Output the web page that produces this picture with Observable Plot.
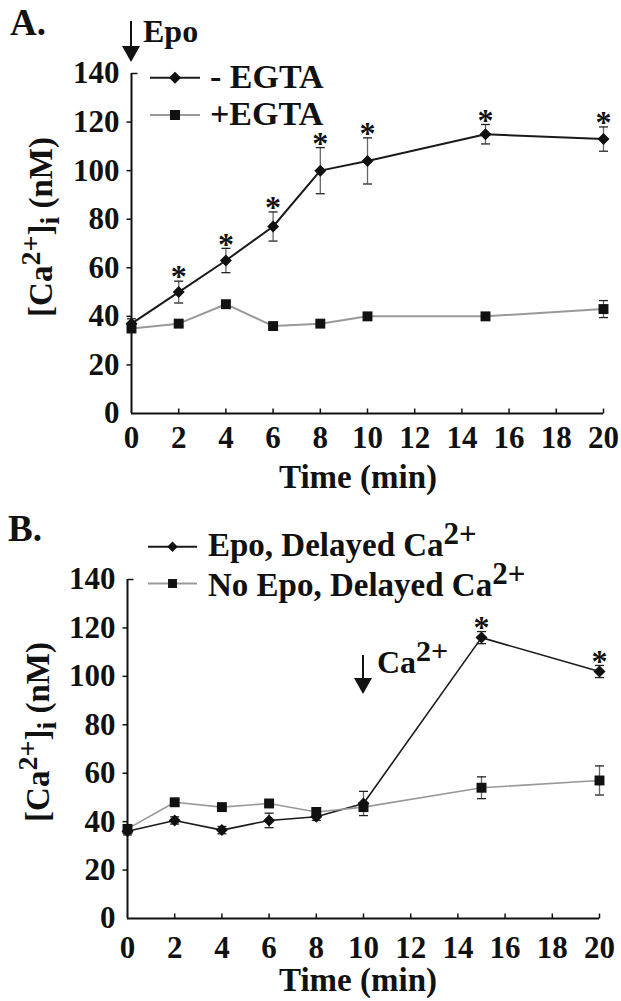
<!DOCTYPE html>
<html><head><meta charset="utf-8">
<script src="https://cdn.jsdelivr.net/npm/d3@7"></script>
<script src="https://cdn.jsdelivr.net/npm/@observablehq/plot@0.6"></script>
<style>
body{margin:0;background:#fff;}
#wrap{position:relative;width:621px;height:1001px;overflow:hidden;background:#fff;}
.panel{position:absolute;left:0;}
svg text{font-family:"Liberation Serif","Times New Roman",serif;font-weight:bold;}
</style></head><body>
<div id="wrap"><div class="panel" id="pa" style="top:0"></div><div class="panel" id="pb" style="top:500px"></div></div>
<script>
// ---- Panel A data ----
const timesA = [0, 2, 4, 6, 8, 10, 15, 20];
const minusEgta = [37, 50, 63, 77, 100, 104, 115, 113];
const minusEgtaErr = [2, 4.5, 5, 6, 9.5, 9.5, 4, 5];
const plusEgta = [35, 37, 45, 36, 37, 40, 40, 43];
const plusEgtaErr = [1.5, 1, 1, 1, 1, 1, 1, 3.5];
const sigA = [false, true, true, true, true, true, true, true];
// ---- Panel B data ----
const timesB = [0, 2, 4, 6, 8, 10, 15, 20];
const epoDelayed = [36, 40.5, 36.5, 40.5, 42, 47.5, 116, 102];
const epoDelayedErr = [1.5, 1.5, 1.5, 3, 1.5, 5, 2.5, 2.5];
const noEpoDelayed = [37, 48, 46, 47.5, 44, 46, 54, 57];
const noEpoDelayedErr = [1, 1, 1, 1, 1, 1.5, 4.5, 6];
const sigB = [false, false, false, false, false, false, true, true];
// ---- ticks ----
const xTicks = [0, 2, 4, 6, 8, 10, 12, 14, 16, 18, 20];
const yTicks = [0, 20, 40, 60, 80, 100, 120, 140];

const FONT = '"Liberation Serif","Times New Roman",serif';
const tickUp = {draw(ctx){ctx.moveTo(0,0);ctx.lineTo(0,-5);}};
const tickLeft = {draw(ctx){ctx.moveTo(0,0);ctx.lineTo(-5,0);}};
const tickRight = {draw(ctx){ctx.moveTo(0,0);ctx.lineTo(6,0);}};
const cap = {draw(ctx){ctx.moveTo(-4.5,0);ctx.lineTo(4.5,0);}};

function rows(times, vals, errs, sig){
  return times.map((t,i)=>({t, v:vals[i], e:errs[i], sig: sig ? sig[i] : false}));
}
function seriesMarks(data, {lineColor, lineWidth, symbol, r, barColor}){
  return [
    Plot.ruleX(data, {x:"t", y1:d=>d.v-d.e, y2:d=>d.v+d.e, stroke:barColor, strokeWidth:1.3}),
    Plot.dot(data, {x:"t", y:d=>d.v+d.e, symbol:cap, r:3, stroke:"#222", strokeWidth:1.3, fill:"none"}),
    Plot.dot(data, {x:"t", y:d=>d.v-d.e, symbol:cap, r:3, stroke:"#222", strokeWidth:1.3, fill:"none"}),
    Plot.line(data, {x:"t", y:"v", stroke:lineColor, strokeWidth:lineWidth}),
    Plot.dot(data, {x:"t", y:"v", symbol, r, fill:"#111", stroke:"none"}),
    Plot.text(data.filter(d=>d.sig), {x:"t", y:d=>d.v+d.e, text:()=>"*", fontSize:32, dy:-4, fill:"#111", fontFamily:FONT, fontWeight:"bold"})
  ];
}
function panel({height, marginTop, marginBottom, marginLeft, marginRight, xPad, s1, s2}){
  return Plot.plot({
    width:621, height, marginTop, marginBottom, marginLeft, marginRight,
    x:{domain:[0,20]}, y:{domain:[0,140]},
    style:{fontFamily:FONT, fontWeight:"bold", fontSize:"31px", color:"#111", background:"white", overflow:"visible"},
    marks:[
      Plot.axisY(yTicks, {anchor:"left", tickSize:0, tickPadding:12, label:null, fontSize:31}),
      Plot.axisX(xTicks, {anchor:"bottom", tickSize:0, tickPadding:xPad, label:null, fontSize:31}),
      Plot.dot(yTicks.slice(1, -1), {x:0, y:d=>d, symbol:tickLeft, r:3, stroke:"#111", strokeWidth:1.5, fill:"none"}),
      Plot.dot([140], {x:0, y:d=>d, symbol:tickRight, r:3, stroke:"#111", strokeWidth:1.5, fill:"none"}),
      Plot.dot(xTicks.slice(1), {x:d=>d, y:0, symbol:tickUp, r:3, stroke:"#111", strokeWidth:1.5, fill:"none"}),
      Plot.ruleX([0], {y1:0, y2:140, stroke:"#111", strokeWidth:2}),
      Plot.ruleY([0], {x1:0, x2:20, stroke:"#111", strokeWidth:2}),
      ...seriesMarks(s1.data, s1),
      ...seriesMarks(s2.data, s2)
    ]
  });
}
function yLabel(g, x, y){
  const t = g.append("text").attr("transform", `translate(${x},${y}) rotate(-90)`)
    .attr("text-anchor","middle").attr("fill","#111").style("font-size","33px");
  t.append("tspan").text("[Ca");
  t.append("tspan").attr("dy",-12).style("font-size","28px").text("2+");
  t.append("tspan").attr("dy",12).text("]");
  t.append("tspan").attr("dy",7).style("font-size","28px").text("i");
  t.append("tspan").attr("dy",-7).text(" (nM)");
}
function arrow(g, x, y0, y1){
  g.append("line").attr("x1",x).attr("x2",x).attr("y1",y0).attr("y2",y1-10).attr("stroke","#111").attr("stroke-width",2);
  g.append("path").attr("d",`M${x-9},${y1-16}L${x+9},${y1-16}L${x},${y1}Z`).attr("fill","#111");
}
function caText(g, x, y, prefix, size){
  const t = g.append("text").attr("x",x).attr("y",y).attr("text-anchor","start").attr("fill","#111").style("font-size",size+"px");
  t.append("tspan").text(prefix + "Ca");
  t.append("tspan").attr("dy",-12).style("font-size",(size-2)+"px").text("2+");
  return t;
}
function legendRow(g, y, textY, x0, x1, tx, lineColor, symbolType, size, label, isCa){
  g.append("line").attr("x1",x0).attr("x2",x1).attr("y1",y).attr("y2",y).attr("stroke",lineColor).attr("stroke-width",2);
  g.append("path").attr("transform",`translate(${(x0+x1)/2},${y})`).attr("d", d3.symbol(symbolType, size)()).attr("fill","#111");
  if (isCa) caText(g, tx, textY, label, 33);
  else g.append("text").attr("x",tx).attr("y",textY).attr("text-anchor","start").attr("fill","#111").style("font-size","34px").text(label);
}

// ---- Panel A ----
const svgA = panel({
  height:500, marginTop:73, marginBottom:87, marginLeft:131, marginRight:18, xPad:12.5,
  s1:{data:rows(timesA, minusEgta, minusEgtaErr, sigA), lineColor:"#1a1a1a", lineWidth:2, symbol:"diamond2", r:5.4, barColor:"#666"},
  s2:{data:rows(timesA, plusEgta, plusEgtaErr, null), lineColor:"#999", lineWidth:2, symbol:"square", r:5.6, barColor:"#666"}
});
document.getElementById("pa").appendChild(svgA);
{
  const g = d3.select(svgA).append("g").attr("text-anchor","start");
  const xs = svgA.scale("x");
  g.append("text").attr("x",10).attr("y",35).attr("text-anchor","start").attr("fill","#111").style("font-size","37px").text("A.");
  arrow(g, xs.apply(0), 21, 62);
  g.append("text").attr("x",143).attr("y",42).attr("text-anchor","start").attr("fill","#111").style("font-size","32px").text("Epo");
  yLabel(g, 52, 227);
  g.append("text").attr("x",358).attr("y",488).attr("text-anchor","middle").attr("fill","#111").style("font-size","33px").text("Time (min)");
  legendRow(g, 77.7, 88, 150, 200, 210, "#1a1a1a", d3.symbolDiamond2, 92, "- EGTA", false);
  legendRow(g, 115, 125, 150, 200, 210, "#999", d3.symbolSquare, 100, "+EGTA", false);
}

// ---- Panel B ----
const svgB = panel({
  height:501, marginTop:79, marginBottom:83, marginLeft:127, marginRight:22, xPad:17.5,
  s1:{data:rows(timesB, epoDelayed, epoDelayedErr, sigB), lineColor:"#1a1a1a", lineWidth:1.6, symbol:"diamond2", r:5.4, barColor:"#666"},
  s2:{data:rows(timesB, noEpoDelayed, noEpoDelayedErr, null), lineColor:"#999", lineWidth:1.6, symbol:"square", r:5.6, barColor:"#666"}
});
document.getElementById("pb").appendChild(svgB);
{
  const g = d3.select(svgB).append("g").attr("text-anchor","start");
  const xs = svgB.scale("x");
  g.append("text").attr("x",8).attr("y",41).attr("text-anchor","start").attr("fill","#111").style("font-size","37px").text("B.");
  arrow(g, xs.apply(10), 155, 194);
  caText(g, 377, 173, "", 32);
  yLabel(g, 49, 232);
  g.append("text").attr("x",358).attr("y",491).attr("text-anchor","middle").attr("fill","#111").style("font-size","33px").text("Time (min)");
  legendRow(g, 46.7, 56, 148, 197, 208, "#1a1a1a", d3.symbolDiamond2, 70, "Epo, Delayed ", true);
  legendRow(g, 83.5, 96, 148, 197, 208, "#999", d3.symbolSquare, 80, "No Epo, Delayed ", true);
}
</script>
</body></html>
